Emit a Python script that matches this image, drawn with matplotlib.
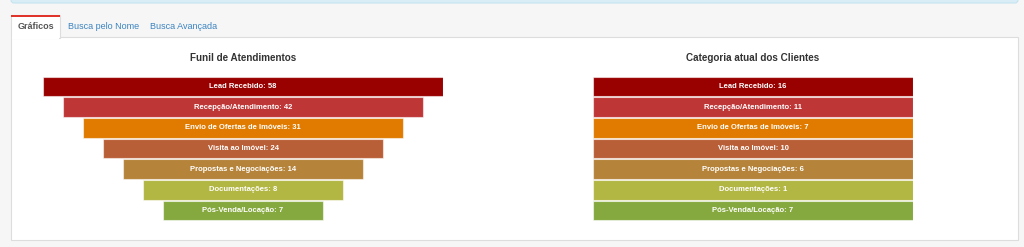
# plot.py
# Painel com dois funis: Funil de Atendimentos e Categoria atual dos Clientes

import numpy as np
import matplotlib.pyplot as plt
from matplotlib.patches import Rectangle, FancyBboxPatch

plt.rcParams["font.family"] = ["Liberation Sans", "DejaVu Sans"]

# ---------------------------
# Dados
# ---------------------------
etapas = [
    "Lead Recebido",
    "Recepção/Atendimento",
    "Envio de Ofertas de Imóveis",
    "Visita ao Imóvel",
    "Propostas e Negociações",
    "Documentações",
    "Pós-Venda/Locação",
]
funil_valores = [58, 42, 31, 24, 14, 8, 7]
categoria_valores = [16, 11, 7, 10, 6, 1, 7]

cores = ["#990000", "#bf3637", "#e07b00", "#b95f38", "#b5843a", "#b2b643", "#85a93e"]
abas = ["Gráficos", "Busca pelo Nome", "Busca Avançada"]

W, H = 1024, 247
fig = plt.figure(figsize=(W / 100, H / 100), dpi=100)
fig.patch.set_facecolor("#f6f6f6")

# ---------------------------
# Moldura da página (coordenadas em pixels)
# ---------------------------
bg = fig.add_axes([0, 0, 1, 1])
bg.set_xlim(0, W)
bg.set_ylim(H, 0)
bg.axis("off")

# faixa azul no topo
bg.add_patch(FancyBboxPatch((11, -6), 1007, 9, boxstyle="round,pad=0,rounding_size=3",
                            fc="#d9edf7", ec="#c5e3f0", lw=0.8))
# painel branco
bg.add_patch(Rectangle((11, 37), 1007, 203, fc="white", ec="#dddddd", lw=0.8))
# aba ativa
bg.add_patch(Rectangle((11, 15), 49, 23, fc="white", ec="#dddddd", lw=0.8, zorder=3))
bg.add_patch(Rectangle((11, 15), 49, 2, fc="#e0352b", ec="none", zorder=4))
bg.add_patch(Rectangle((11.6, 36), 47.8, 3, fc="white", ec="none", zorder=4))

tab_x = [18, 68, 150]
tab_cor = ["#555555", "#3b83c0", "#3b83c0"]
for txt, x, c in zip(abas, tab_x, tab_cor):
    bg.text(x, 26.5, txt, fontsize=6.5, color=c, va="center", ha="left",
            fontweight="bold" if c == "#555555" else "normal", zorder=5)

# ---------------------------
# Funis
# ---------------------------
def desenhar_funil(px_left, px_width, valores, titulo, larguras):
    ax = fig.add_axes([px_left / W, (H - 221) / H, px_width / W, 145 / H])
    ax.set_xlim(-0.5, 0.5)
    ax.set_ylim(len(valores) - 0.5, -0.5)
    ax.axis("off")
    y = np.arange(len(valores))
    larg = np.array(larguras)
    ax.barh(y, larg, left=-larg / 2, height=0.94, color=cores,
            edgecolor=(1, 1, 1, 0.55), linewidth=0.8)
    for i, (nome, v) in enumerate(zip(etapas, valores)):
        ax.text(0, i, f"{nome}: {v}", ha="center", va="center", color="white",
                fontsize=5.5, fontweight="bold")
    fig.text((px_left + px_width / 2) / W, 1 - 58 / H, titulo, ha="center",
             va="center", fontsize=7.1, fontweight="bold", color="#333333")


# funil escalonado: largura diminui 10% por etapa
desenhar_funil(43, 400, funil_valores, "Funil de Atendimentos",
               [1 - 0.1 * i for i in range(len(etapas))])
# segundo gráfico com largura constante
desenhar_funil(593, 320, categoria_valores, "Categoria atual dos Clientes",
               [1.0] * len(etapas))

fig.savefig("out.png", dpi=100, facecolor=fig.get_facecolor())
